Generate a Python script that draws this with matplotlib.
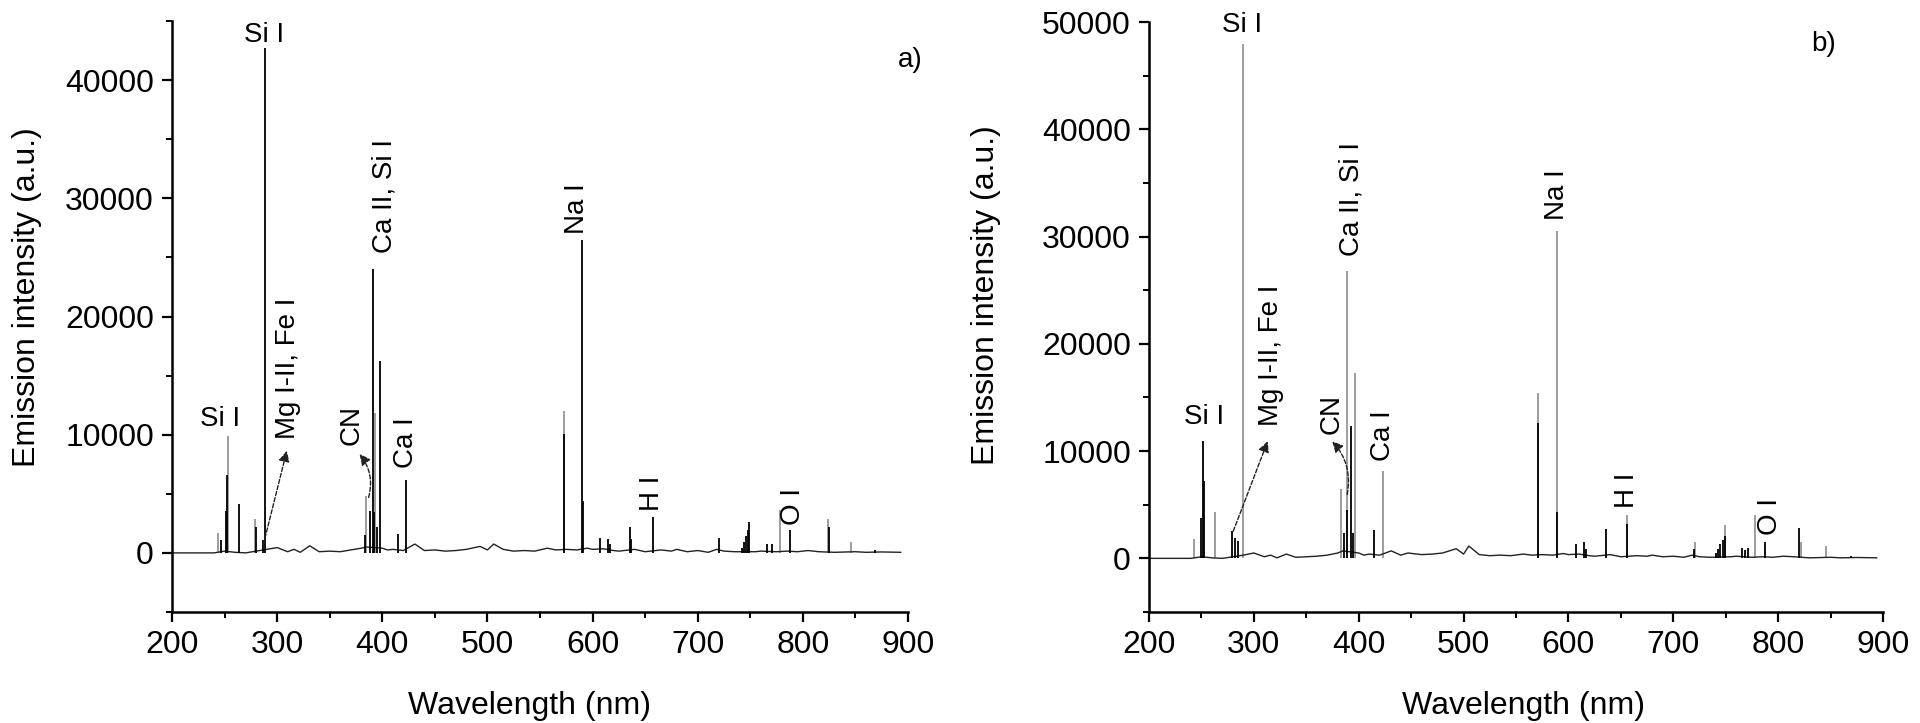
import matplotlib
matplotlib.use("Agg")
import matplotlib.pyplot as plt
from matplotlib.ticker import MultipleLocator

plt.rcParams['font.family'] = ['Liberation Sans', 'DejaVu Sans']

# ---------------- data ----------------
# panel a
gray_a_wl = [244, 253, 279, 384.8, 392.7, 572.7, 777.8, 824, 846]
gray_a_int = [1720, 9870, 2910, 4830, 11800, 11980, 3670, 2850, 930]

black_a_wl = [247, 251.5, 252.5, 263.5, 280, 286.3, 288.1, 384, 388.6, 391.1, 392, 395,
              397.8, 414.6, 423, 572.9, 590.2, 591, 607, 614.6, 617, 635.5, 637, 657.8,
              720.3, 742, 744, 746, 747.5, 749, 766, 771, 787.6, 824.5, 868.6]
black_a_int = [1100, 3560, 6550, 4120, 2200, 1100, 42700, 1500, 3560, 24000, 3420, 2150,
               16240, 1640, 6160, 10060, 26470, 4400, 1300, 1160, 760, 2150, 1200, 3050,
               1240, 400, 900, 1400, 1900, 2630, 790, 790, 1920, 2150, 250]

base_a_wl = [200, 240, 250, 260, 270, 290, 300, 310, 316, 322, 331, 340, 350, 360, 370, 380,
             385, 400, 405, 410, 420, 431, 440, 450, 460, 470, 480, 493, 500, 506, 515, 525,
             535, 545, 557, 565, 575, 585, 595, 600, 610, 620, 625, 640, 650, 665, 675, 680,
             690, 700, 710, 718, 725, 735, 755, 760, 775, 785, 795, 805, 815, 830, 850, 860,
             875, 893]
base_a_int = [0, 0, 150, 50, 0, 300, 450, 100, 300, 50, 600, 100, 150, 100, 250, 400,
              500, 400, 250, 300, 200, 750, 200, 250, 150, 200, 300, 550, 250, 750, 300, 150,
              200, 150, 400, 250, 300, 250, 400, 300, 350, 200, 150, 300, 100, 250, 150, 300,
              100, 200, 50, 300, 150, 100, 100, 150, 100, 150, 100, 200, 100, 50, 100, 50,
              80, 50]

# panel b
gray_b_wl = [243.2, 262.9, 289.3, 382.7, 389.3, 396.4, 422.8, 571.1, 589.2, 656.3, 720.5,
             749.5, 777.7, 822, 845.4]
gray_b_int = [1830, 4310, 47970, 6490, 26820, 17300, 8130, 15450, 30510, 4000, 1520,
              3070, 4000, 1500, 1150]

black_b_wl = [250, 251.2, 252, 278.8, 282, 285, 386, 389, 392.2, 395, 414.5, 571.4, 589.5,
              607, 615, 617, 635.7, 656.3, 720, 741, 743, 745, 747, 749, 766, 768, 771,
              787.9, 819.6, 869.9]
black_b_int = [3790, 10920, 7200, 2540, 1930, 1610, 2390, 4470, 12380, 2390, 2600, 12630,
               4340, 1360, 1520, 900, 2700, 3170, 900, 500, 900, 1300, 1700, 2080, 1000,
               800, 1000, 1520, 2860, 250]

base_b_wl = [200, 240, 250, 260, 270, 290, 300, 310, 316, 322, 331, 340, 350, 360, 370, 380,
             385, 400, 405, 410, 420, 431, 440, 447, 460, 470, 480, 493, 500, 505, 515, 525,
             535, 545, 557, 565, 575, 585, 595, 600, 610, 620, 625, 640, 650, 665, 675, 680,
             690, 700, 710, 718, 725, 735, 755, 760, 775, 785, 795, 805, 815, 830, 850, 860,
             875, 894]
base_b_int = [0, 0, 150, 50, 0, 300, 500, 150, 300, 50, 400, 100, 150, 200, 300, 500,
              700, 500, 300, 400, 300, 700, 300, 500, 350, 400, 500, 900, 400, 1150, 350, 250,
              300, 250, 400, 300, 350, 300, 450, 350, 400, 250, 200, 350, 150, 250, 200, 300,
              150, 200, 100, 300, 150, 100, 150, 200, 100, 150, 100, 200, 150, 50, 100, 50,
              80, 50]

# annotation labels
labels_text = ["Si I", "Si I", "Mg I-II, Fe I", "CN", "Ca II, Si I", "Ca I", "Na I", "H I", "O I"]
labels_rot = [0, 0, 90, 90, 90, 90, 90, 90, 90]
labels_a_x = [288, 246, 310, 371.1, 402.3, 422.9, 585.5, 656.8, 791]
labels_a_y = [43850, 11320, 15650, 10850, 30180, 9300, 29130, 5030, 3900]
labels_b_x = [288.4, 252.4, 316.3, 374.2, 393.3, 423.4, 589, 656.3, 792]
labels_b_y = [49690, 13190, 18920, 13500, 33520, 11480, 33940, 6300, 3880]

# arrows: (tail, head)
mg_arrow_a = [(287, 740), (309.2, 8640)]
cn_arrow_a = [(387, 4690), (378.4, 8360)]
mg_arrow_b = [(280.4, 2540), (313.2, 10920)]
cn_arrow_b = [(389, 5960), (374.7, 10920)]

x_ticks = [200, 300, 400, 500, 600, 700, 800, 900]

# ---------------- figure ----------------
W, H = 1920, 723
fig = plt.figure(figsize=(W / 100, H / 100), dpi=100)
axa = fig.add_axes([172 / W, 111 / H, 736 / W, 591 / H])
axb = fig.add_axes([1149 / W, 111 / H, 734 / W, 590 / H])

GRAY = '#8e8e8e'


def draw(ax, gwl, gint, bwl, bint, bxw, bxi, lx, ly, mg, cn, ymax, tag, tag_xy,
         ylab_xy, xlab_xy):
    ax.plot(bxw, bxi, color='#222222', lw=1.0, zorder=2)
    ax.vlines(gwl, 0, gint, color=GRAY, lw=1.2, zorder=1)
    ax.vlines(bwl, 0, bint, color='black', lw=1.3, zorder=3)
    ax.set_xlim(200, 900)
    ax.set_ylim(-5000, ymax)
    ax.set_xticks(x_ticks)
    ax.xaxis.set_minor_locator(MultipleLocator(50))
    ax.yaxis.set_major_locator(MultipleLocator(10000))
    ax.yaxis.set_minor_locator(MultipleLocator(5000))
    for s in ['top', 'right']:
        ax.spines[s].set_visible(False)
    for s in ['left', 'bottom']:
        ax.spines[s].set_linewidth(1.8)
    ax.tick_params(which='major', direction='out', length=7, width=1.6,
                   labelsize=23, pad=6)
    ax.tick_params(which='minor', direction='out', length=4, width=1.4)
    ax.set_xlabel('Wavelength (nm)', fontsize=23)
    ax.set_ylabel('Emission intensity (a.u.)', fontsize=23)
    ax.yaxis.set_label_coords(*ylab_xy)
    ax.xaxis.set_label_coords(*xlab_xy)
    for t, r, x, y in zip(labels_text, labels_rot, lx, ly):
        ax.text(x, y, t, rotation=r, ha='center', va='center', fontsize=20)
    ax.text(tag_xy[0], tag_xy[1], tag, ha='center', va='center', fontsize=20)
    ap = dict(arrowstyle='-|>', lw=1.0, color='#222222', ls=(0, (3, 1.5)),
              mutation_scale=16, shrinkA=0, shrinkB=0)
    ax.annotate('', xy=mg[1], xytext=mg[0], arrowprops=ap)
    ap2 = dict(ap, connectionstyle='arc3,rad=0.25')
    ax.annotate('', xy=cn[1], xytext=cn[0], arrowprops=ap2)


draw(axa, gray_a_wl, gray_a_int, black_a_wl, black_a_int, base_a_wl, base_a_int,
     labels_a_x, labels_a_y, mg_arrow_a, cn_arrow_a, 45000, 'a)', (902, 41700),
     (-0.176, 0.533), (0.486, -0.134))
draw(axb, gray_b_wl, gray_b_int, black_b_wl, black_b_int, base_b_wl, base_b_int,
     labels_b_x, labels_b_y, mg_arrow_b, cn_arrow_b, 50000, 'b)', (843, 47970),
     (-0.202, 0.537), (0.51, -0.134))

fig.savefig('out.png', dpi=100)
